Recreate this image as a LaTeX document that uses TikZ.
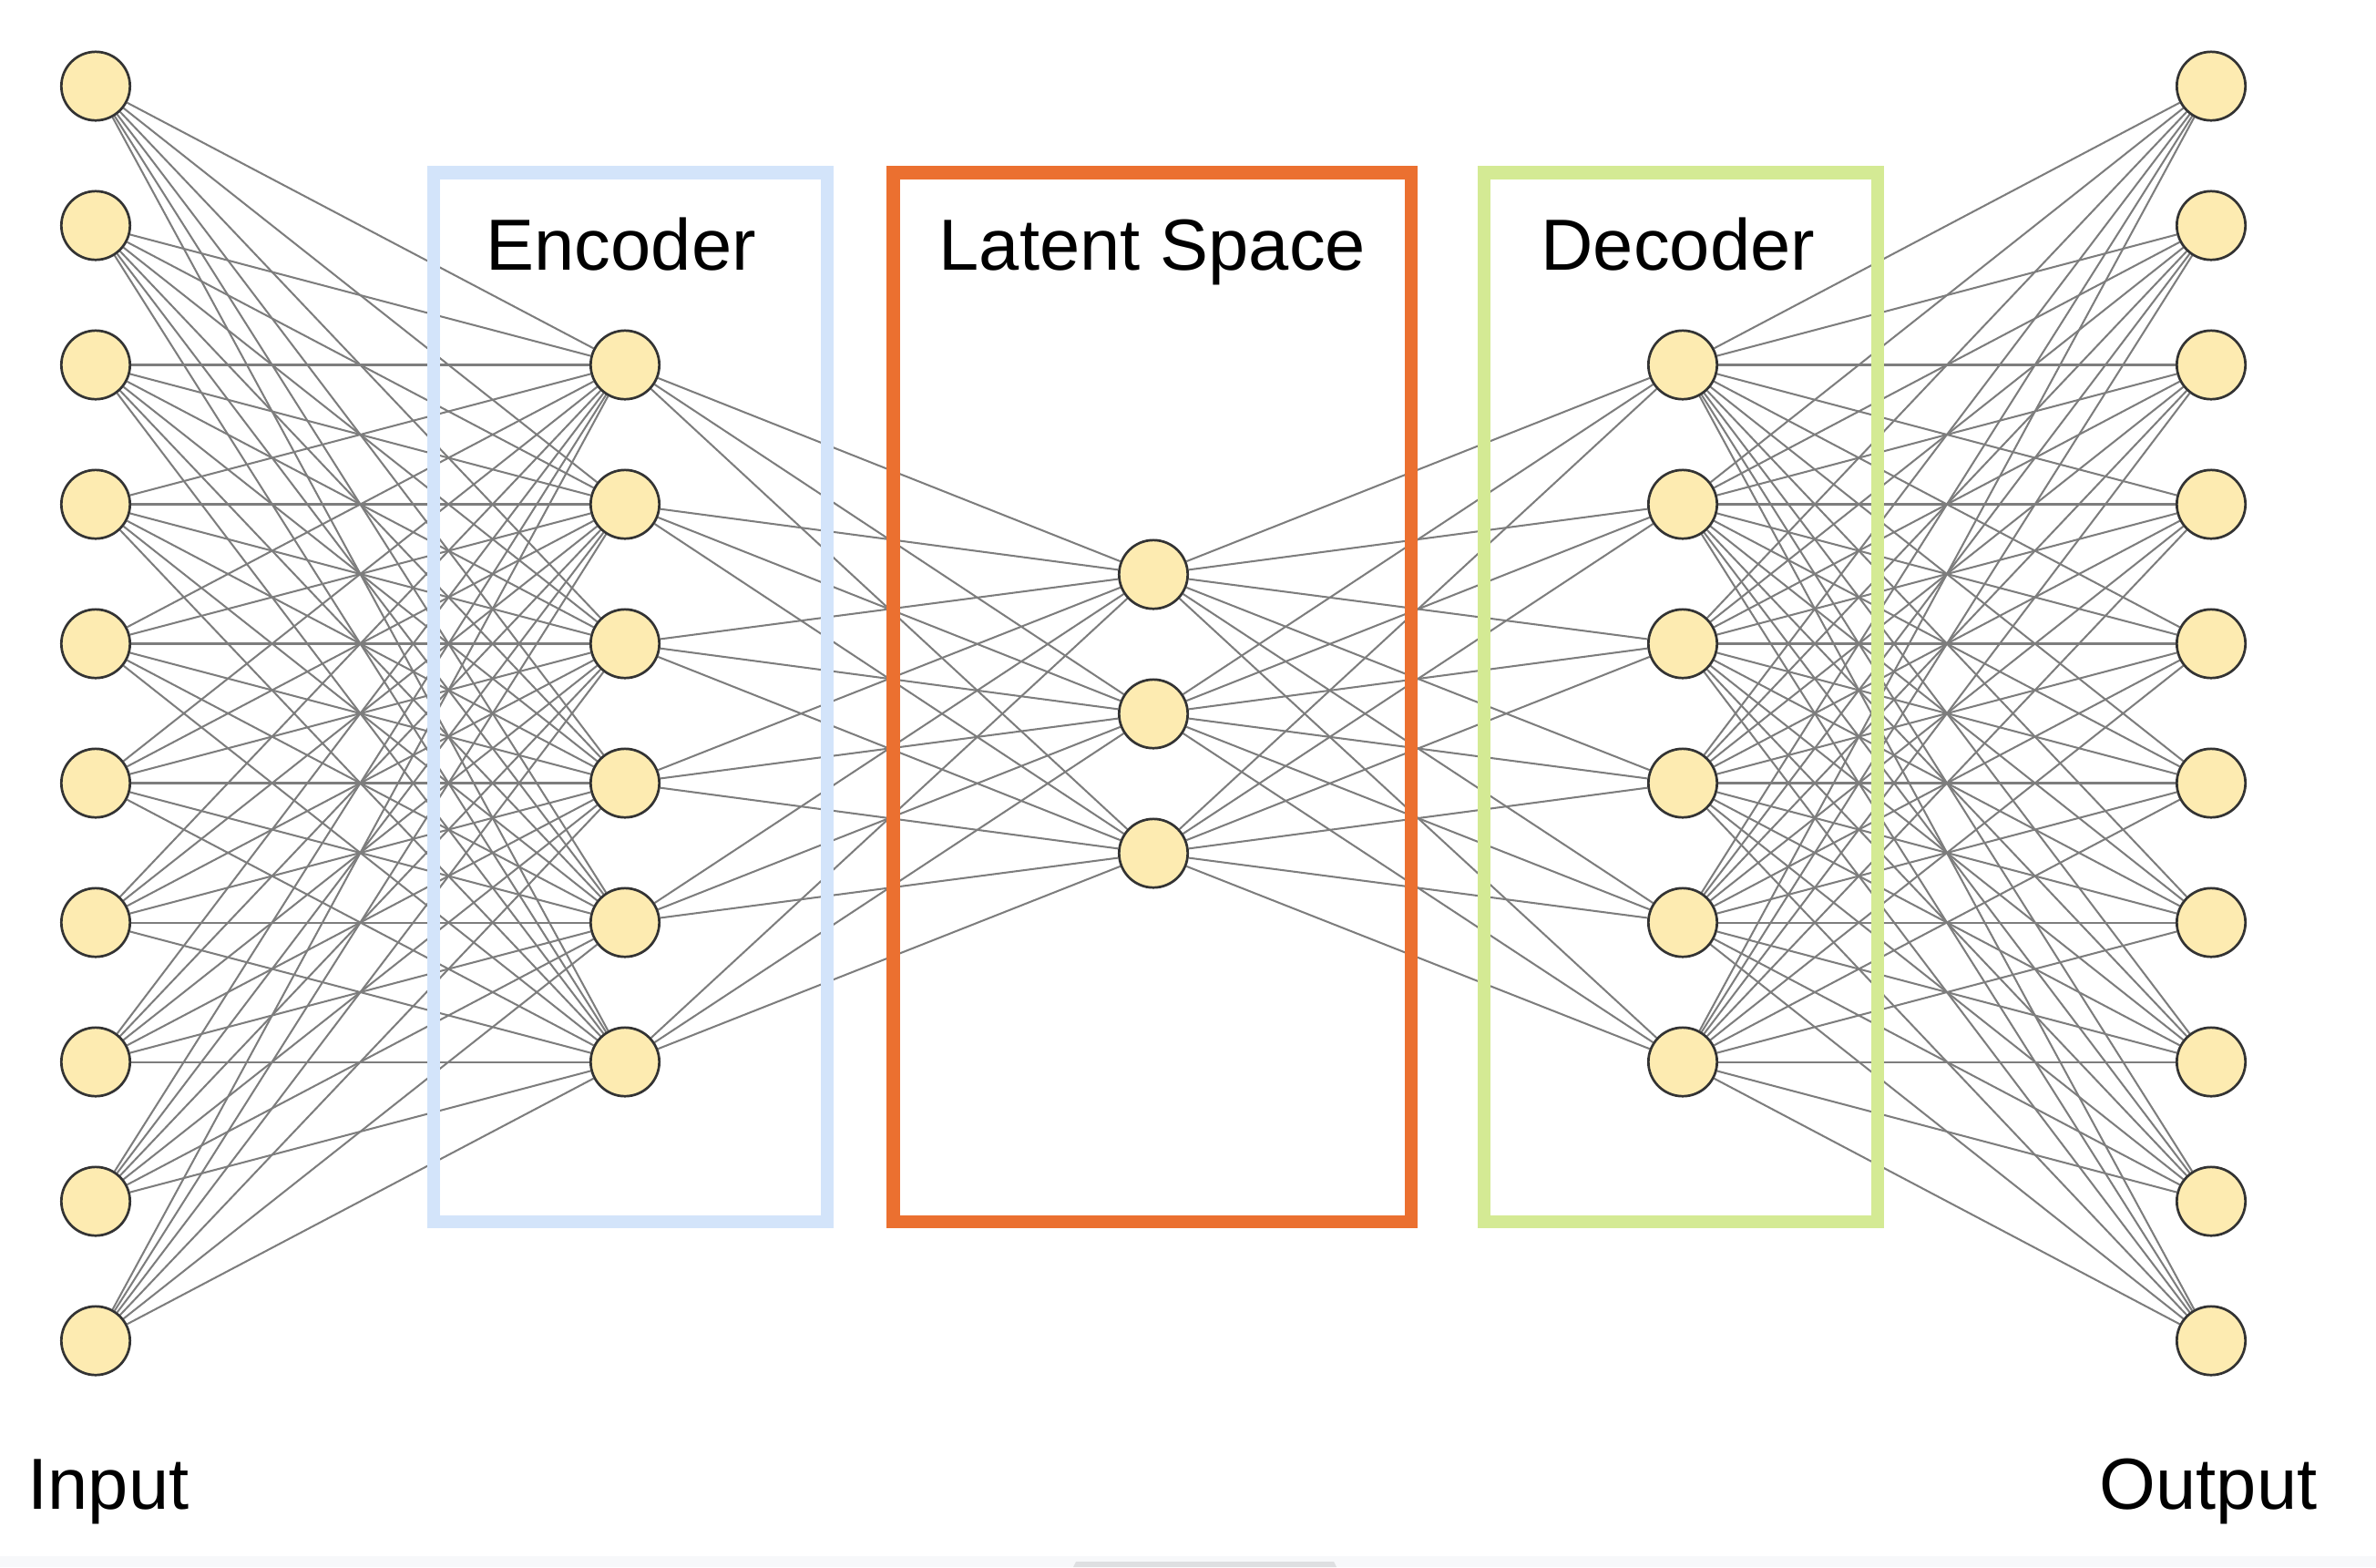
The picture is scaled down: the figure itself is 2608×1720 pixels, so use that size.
\documentclass[tikz,border=0pt]{standalone}
\usepackage{fontspec}
\setmainfont{Liberation Sans}

\pgfdeclarelayer{links}
\pgfdeclarelayer{frames}
\pgfsetlayers{links,frames,main}

\definecolor{neuronfill}{HTML}{FDEBB1}
\definecolor{neuronline}{HTML}{333333}
\definecolor{linkgray}{HTML}{7D7D7D}
\definecolor{encblue}{HTML}{D3E4FA}
\definecolor{latorange}{HTML}{EB7030}
\definecolor{decgreen}{HTML}{D4EA94}
\definecolor{stripgray}{HTML}{F7F8FA}
\definecolor{tabgray}{HTML}{DEDFE1}

\begin{document}
\begin{tikzpicture}[x=0.01cm, y=-0.01cm,
  neuron/.style={circle, draw=neuronline, line width=0.77pt, fill=neuronfill,
    inner sep=0pt, minimum size=7.53mm},
  link/.style={draw=linkgray, line width=0.58pt},
  layerbox/.style={draw=#1, line width=4pt},
  layername/.style={font=\fontsize{22.6}{27}\selectfont, inner sep=0pt}]
\useasboundingbox (0,0) rectangle (2608,1720);
\fill[stripgray] (0,1708) rectangle (2608,1720);
\fill[tabgray] (1178,1720) -- (1181,1714) -- (1464,1714) -- (1467,1720) -- cycle;
% layers of neurons
\foreach \i in {1,...,10} {
  \node[neuron] (in\i) at (105,{94.5+153*(\i-1)}) {};
  \node[neuron] (out\i) at (2427,{94.5+153*(\i-1)}) {};
}
\foreach \i in {1,...,6} {
  \node[neuron] (enc\i) at (686,{400.5+153*(\i-1)}) {};
  \node[neuron] (dec\i) at (1847,{400.5+153*(\i-1)}) {};
}
\foreach \i in {1,2,3}
  \node[neuron] (lat\i) at (1266,{630.5+153*(\i-1)}) {};
% full connections
\begin{pgfonlayer}{links}
\foreach \i in {1,...,10} \foreach \j in {1,...,6} {
  \draw[link] (in\i) -- (enc\j);
  \draw[link] (dec\j) -- (out\i);
}
\foreach \i in {1,...,6} \foreach \j in {1,2,3} {
  \draw[link] (enc\i) -- (lat\j);
  \draw[link] (lat\j) -- (dec\i);
}
\end{pgfonlayer}
\begin{pgfonlayer}{frames}
\draw[layerbox=encblue] (476,189.5) rectangle (908.3,1341);
\draw[layerbox=latorange] (980.5,189.5) rectangle (1549,1341);
\draw[layerbox=decgreen] (1628.7,189.5) rectangle (2061,1341);
\end{pgfonlayer}
\node[layername, anchor=base] (enctitle) at (681.7,296.7) {Encoder};
\node[layername, anchor=base] (lattitle) at (1265,296.7) {Latent Space};
\node[layername, anchor=base] (dectitle) at (1841.7,296.7) {Decoder};
\node[layername, anchor=base west] (intitle) at (30,1656.7) {Input};
\node[layername, anchor=base east] (outtitle) at (2544,1656.7) {Output};
\end{tikzpicture}
\end{document}
